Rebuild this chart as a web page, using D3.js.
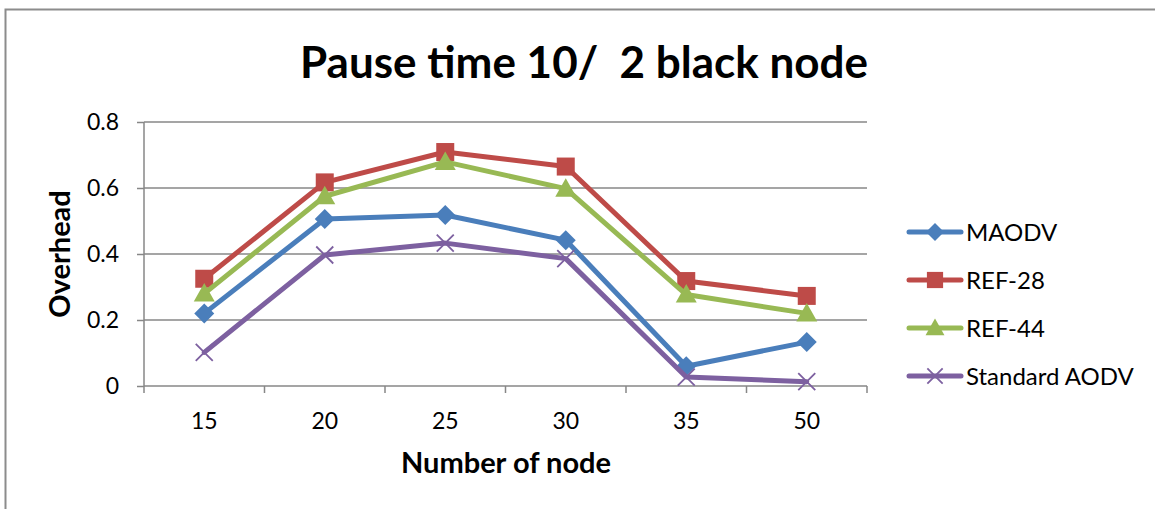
<!DOCTYPE html>
<html><head><meta charset="utf-8">
<script src="https://cdn.jsdelivr.net/npm/d3@7"></script>
<style>html,body{margin:0;padding:0;background:#fff;}svg{display:block;}</style>
</head><body>
<svg id="c" width="1155" height="509"></svg>
<script>
const categories = ["15","20","25","30","35","50"];
const yTicks = [0, 0.2, 0.4, 0.6, 0.8];
const seriesNames = ["MAODV","REF-28","REF-44","Standard AODV"];
const maodv = [0.22, 0.506, 0.518, 0.442, 0.06, 0.133];
const ref28 = [0.325, 0.617, 0.709, 0.665, 0.318, 0.273];
const ref44 = [0.28, 0.575, 0.679, 0.598, 0.277, 0.22];
const stdAodv = [0.102, 0.397, 0.433, 0.386, 0.027, 0.013];
const colors = ["#4A7EBB","#BE4B48","#98B954","#7D60A0"];
const markers = ["diamond","square","triangle","x"];
const allSeries = [maodv, ref28, ref44, stdAodv];

(function(){
const svg = d3.select("#c");
const font = "Lato, 'Open Sans', sans-serif";
svg.append("rect").attr("x",5.5).attr("y",9.5).attr("width",1160).attr("height",520)
  .attr("fill","none").attr("stroke","#8c8c8c").attr("stroke-width",2);

const pl=144, pr=867, pt=122, pb=386;
const x = d3.scaleBand().domain(categories).range([pl,pr]);
const y = d3.scaleLinear().domain([0,0.8]).range([pb,pt]);

svg.append("g").selectAll("line").data(yTicks.slice(1)).join("line")
  .attr("x1",pl).attr("x2",pr).attr("y1",d=>y(d)).attr("y2",d=>y(d))
  .attr("stroke","#878787").attr("stroke-width",1.5);

const ya = svg.append("g").attr("transform",`translate(${pl},0)`)
  .call(d3.axisLeft(y).tickValues(yTicks).tickSize(7).tickPadding(18).tickFormat(d=>d===0?"0":d3.format(".1f")(d)));
ya.select(".domain").attr("stroke","#878787").attr("stroke-width",1.5).attr("d",`M0,${pt}V${pb}`);
ya.selectAll(".tick line").attr("stroke","#878787").attr("stroke-width",1.5);
ya.selectAll("text").attr("font-family",font).attr("font-size",23).attr("fill","#000");

const xa = svg.append("g").attr("transform",`translate(0,${pb})`)
  .call(d3.axisBottom(x).tickSize(0).tickPadding(27));
xa.select(".domain").attr("stroke","#878787").attr("stroke-width",1.5).attr("d",`M${pl},0H${pr}`);
xa.selectAll("text").attr("font-family",font).attr("font-size",23).attr("fill","#000");
svg.append("g").selectAll("line").data(categories.concat(["end"])).join("line")
  .attr("x1",(d,i)=>i<categories.length?x(d):pr).attr("x2",(d,i)=>i<categories.length?x(d):pr)
  .attr("y1",pb).attr("y2",pb+7).attr("stroke","#878787").attr("stroke-width",1.5);

function drawMarker(g, type, color, cx, cy, s){
  if(type==="diamond"){
    g.append("path").attr("d",`M${cx},${cy-s}L${cx+s},${cy}L${cx},${cy+s}L${cx-s},${cy}Z`).attr("fill",color);
  } else if(type==="square"){
    g.append("rect").attr("x",cx-s*0.9).attr("y",cy-s*0.9).attr("width",s*1.8).attr("height",s*1.8).attr("fill",color);
  } else if(type==="triangle"){
    g.append("path").attr("d",`M${cx},${cy-s*1.05}L${cx+s*1.05},${cy+s*0.8}L${cx-s*1.05},${cy+s*0.8}Z`).attr("fill",color);
  } else {
    const k=s*0.85;
    g.append("path").attr("d",`M${cx-k},${cy-k}L${cx+k},${cy+k}M${cx-k},${cy+k}L${cx+k},${cy-k}`).attr("stroke",color).attr("stroke-width",1.8).attr("fill","none");
  }
}

const line = d3.line().x((d,i)=>x(categories[i])+x.bandwidth()/2).y(d=>y(d));
allSeries.forEach((vals,si)=>{
  const g = svg.append("g");
  g.append("path").attr("d",line(vals)).attr("fill","none").attr("stroke",colors[si])
    .attr("stroke-width",5).attr("stroke-linejoin","round").attr("stroke-linecap","round");
  vals.forEach((v,i)=>drawMarker(g, markers[si], colors[si], x(categories[i])+x.bandwidth()/2, y(v), 10));
});

svg.append("text").attr("x",584).attr("y",78).attr("text-anchor","middle")
  .attr("font-family",font).attr("font-weight","bold").attr("font-size",44).attr("fill","#000")
  .attr("xml:space","preserve").text("Pause time 10/  2 black node");
svg.append("text").attr("x",506).attr("y",473).attr("text-anchor","middle")
  .attr("font-family",font).attr("font-weight","bold").attr("font-size",29).text("Number of node");
svg.append("text").attr("transform","translate(70,254) rotate(-90)").attr("text-anchor","middle")
  .attr("font-family",font).attr("font-weight","bold").attr("font-size",29).text("Overhead");

const lg = svg.append("g");
seriesNames.forEach((n,i)=>{
  const cy = 232 + i*48;
  lg.append("line").attr("x1",909).attr("x2",961).attr("y1",cy).attr("y2",cy)
    .attr("stroke",colors[i]).attr("stroke-width",5).attr("stroke-linecap","round");
  drawMarker(lg, markers[i], colors[i], 935, cy, 9);
  lg.append("text").attr("x",966).attr("y",cy+9).attr("font-family",font).attr("font-size",24).text(n);
});
})();
</script>
</body></html>
